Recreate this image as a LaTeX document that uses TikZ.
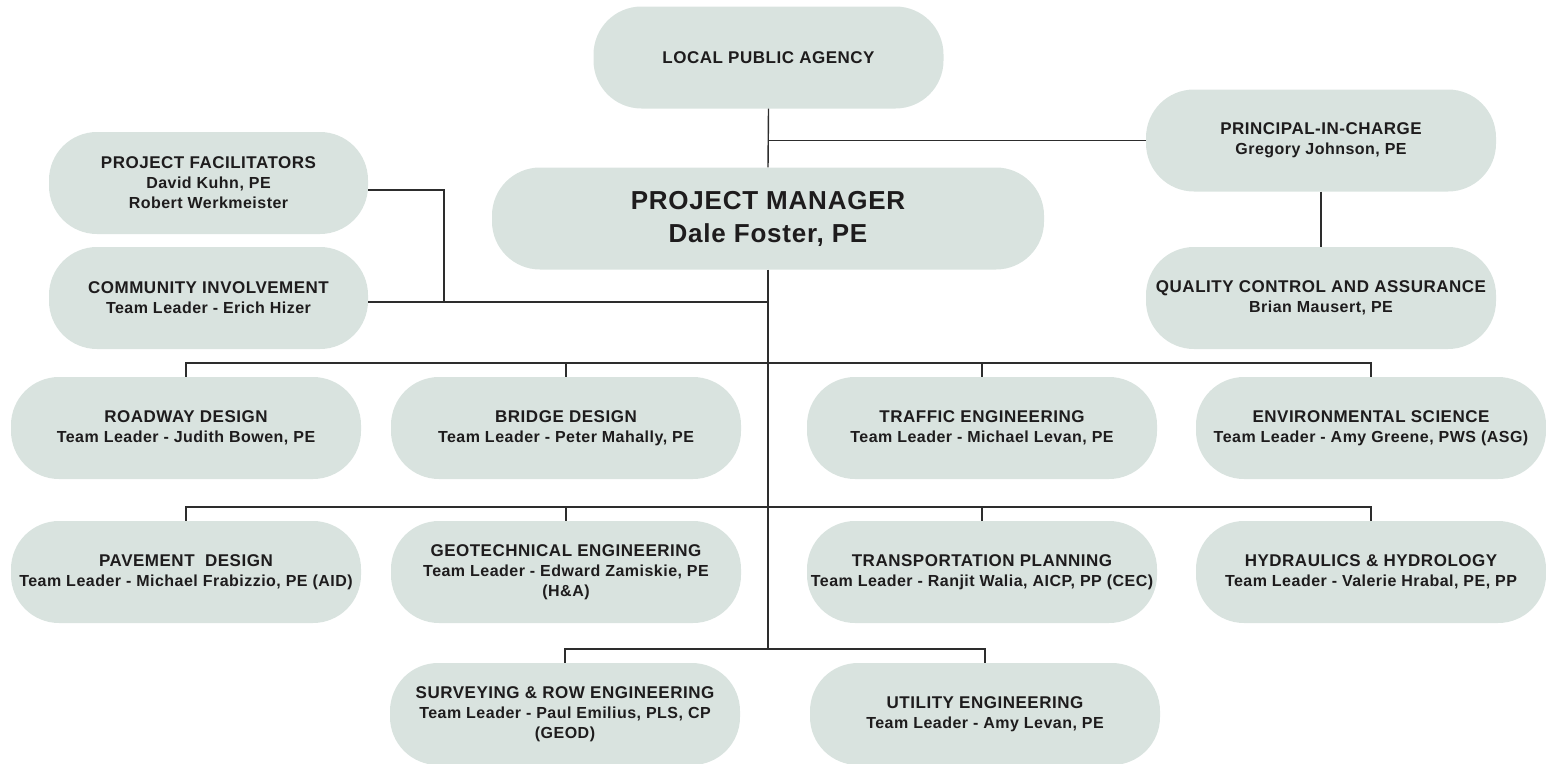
\documentclass[tikz,border=0pt]{standalone}
\usepackage{fontspec}
\setmainfont{Liberation Sans}[LetterSpace=3]
\usepackage{tikz}

\definecolor{boxfill}{RGB}{217,227,223}
\definecolor{inkgrey}{RGB}{30,28,29}
\definecolor{linegrey}{RGB}{45,45,45}
\newcommand{\unithead}[1]{{\fontsize{17}{20}\selectfont #1}}

\begin{document}
\begin{tikzpicture}[x=1pt,y=-1pt,
  unit/.style={fill=boxfill, rounded corners=48pt, text=inkgrey, align=center,
    font=\bfseries\fontsize{16}{20}\selectfont,
    minimum width=350pt, minimum height=102pt, inner sep=0pt},
  link/.style={draw=linegrey, line width=1.4pt}]
\useasboundingbox (0,0) rectangle (1546,763);

% Agency and project manager
\node[unit] (lpa) at (768.5,57.5) {\unithead{LOCAL PUBLIC AGENCY}};
\node[unit, minimum width=552pt, font=\bfseries\fontsize{26}{33}\selectfont] (pm) at (768,218.5) {PROJECT MANAGER\\Dale Foster, PE};

% Principal and quality control
\node[unit] (pic) at (1321,140.5) {\unithead{PRINCIPAL-IN-CHARGE}\\Gregory Johnson, PE};
\node[unit] (qc) at (1321,298) {\unithead{QUALITY CONTROL AND ASSURANCE}\\Brian Mausert, PE};

% Staff on the left
\node[unit, minimum width=319pt] (pf) at (208.5,183) {\unithead{PROJECT FACILITATORS}\\David Kuhn, PE\\Robert Werkmeister};
\node[unit, minimum width=319pt] (ci) at (208.5,298) {\unithead{COMMUNITY INVOLVEMENT}\\Team Leader - Erich Hizer};

% First row of teams
\node[unit] (rd) at (186,428) {\unithead{ROADWAY DESIGN}\\Team Leader - Judith Bowen, PE};
\node[unit] (bd) at (566,428) {\unithead{BRIDGE DESIGN}\\Team Leader - Peter Mahally, PE};
\node[unit] (te) at (982,428) {\unithead{TRAFFIC ENGINEERING}\\Team Leader - Michael Levan, PE};
\node[unit] (es) at (1371,428) {\unithead{ENVIRONMENTAL SCIENCE}\\Team Leader - Amy Greene, PWS (ASG)};

% Second row of teams
\node[unit] (pv) at (186,572) {\unithead{PAVEMENT\ \ DESIGN}\\Team Leader - Michael Frabizzio, PE (AID)};
\node[unit] (gt) at (566,572) {\unithead{GEOTECHNICAL ENGINEERING}\\Team Leader - Edward Zamiskie, PE\\(H\&A)};
\node[unit] (tp) at (982,572) {\unithead{TRANSPORTATION PLANNING}\\Team Leader - Ranjit Walia, AICP, PP (CEC)};
\node[unit] (hh) at (1371,572) {\unithead{HYDRAULICS \& HYDROLOGY}\\Team Leader - Valerie Hrabal, PE, PP};

% Third row of teams
\node[unit] (sv) at (565,714) {\unithead{SURVEYING \& ROW ENGINEERING}\\Team Leader - Paul Emilius, PLS, CP\\(GEOD)};
\node[unit] (ut) at (985,714) {\unithead{UTILITY ENGINEERING}\\Team Leader - Amy Levan, PE};

% Lines at the top
\draw[link] (lpa.south) -- (pm.north);
\draw[link] (lpa.south |- pic.west) -- (pic.west);
\draw[link] (pic.south) -- (qc.north);

% Lines to the staff
\coordinate (staffjoin) at (444,302);
\draw[link] ([yshift=-7pt]pf.east) -| (staffjoin);
\draw[link] (ci.east |- staffjoin) -- (pm.south |- staffjoin);

% Trunk and team buses
\coordinate (bus3) at (768,650);
\draw[link] (pm.south) -- (bus3);
\draw[link] (rd.north) -- ++(0,-14) -| (es.north);
\draw[link] (bd.north) -- ++(0,-14);
\draw[link] (te.north) -- ++(0,-14);
\draw[link] (pv.north) -- ++(0,-14) -| (hh.north);
\draw[link] (gt.north) -- ++(0,-14);
\draw[link] (tp.north) -- ++(0,-14);
\draw[link] (sv.north) -- ++(0,-14) -| (ut.north);
\end{tikzpicture}
\end{document}
